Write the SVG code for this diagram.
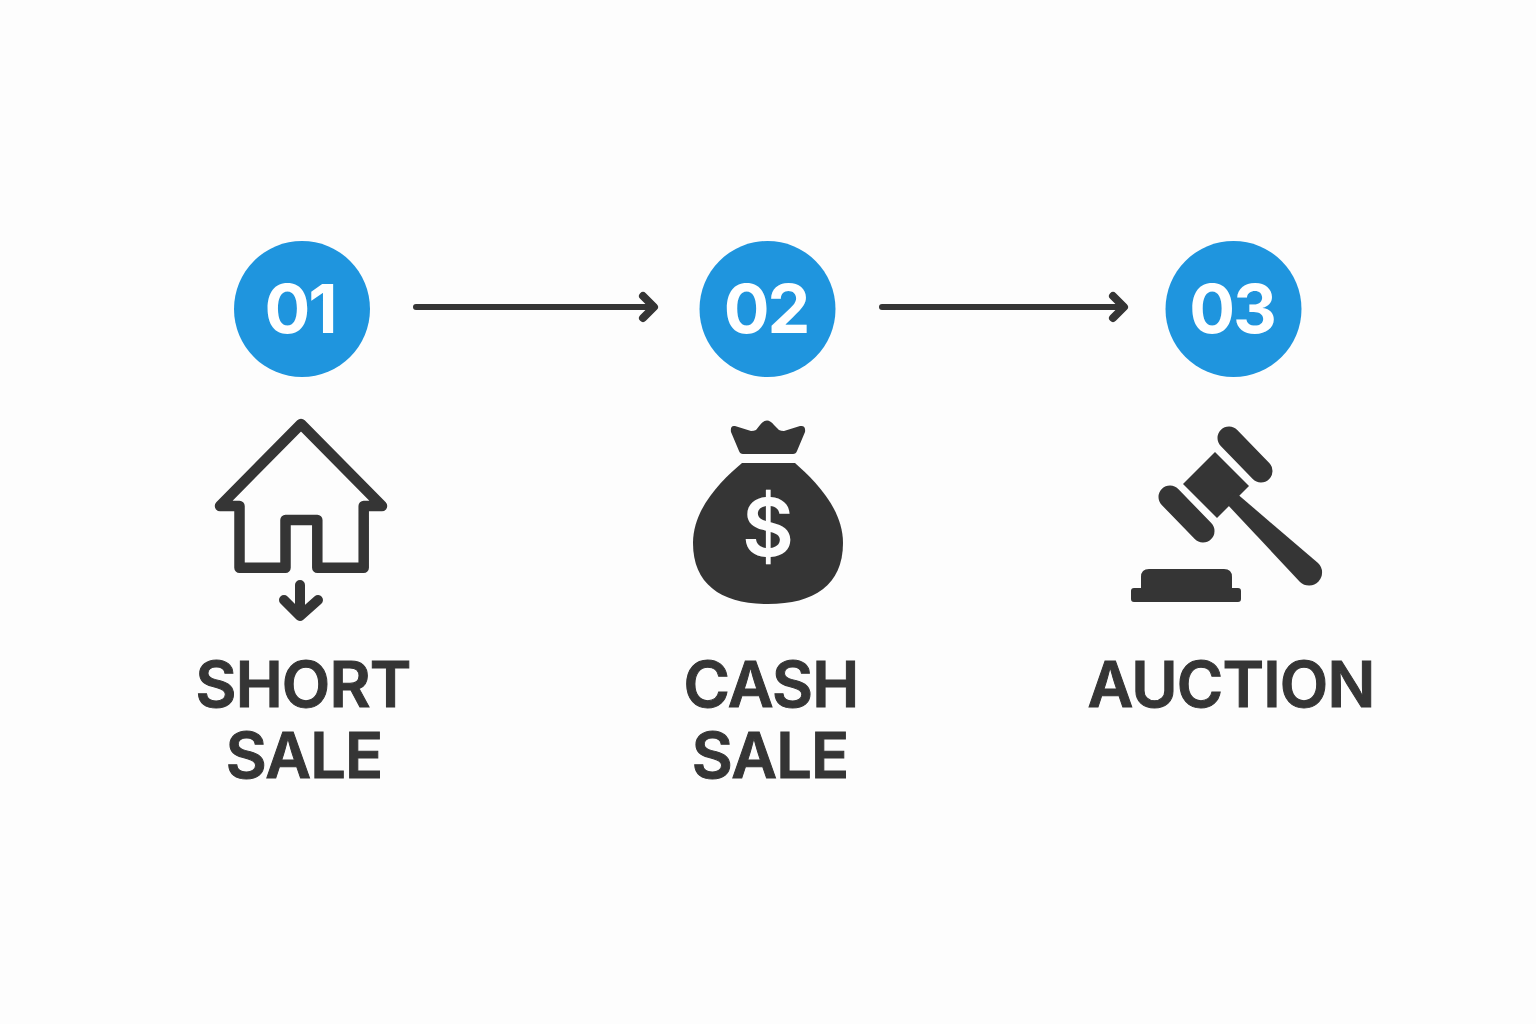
<svg xmlns="http://www.w3.org/2000/svg" width="1536" height="1024" viewBox="0 0 1536 1024">
<style>
.badge{fill:#1f95de}
.num{font-family:Inter,"Liberation Sans",sans-serif;font-weight:700;font-size:68px;letter-spacing:-2px;fill:#fff;text-anchor:middle}
.lbl{font-family:Inter,"Liberation Sans",sans-serif;font-weight:600;font-size:63px;letter-spacing:-.8px;fill:#353535;stroke:#353535;stroke-width:1;text-anchor:middle}
.ic{fill:#353535}
.ln{fill:none;stroke:#353535;stroke-linecap:round;stroke-linejoin:round}
.conn{fill:none;stroke:#353535;stroke-width:6;stroke-linecap:round}
</style>
<defs>
<marker id="chev" markerUnits="userSpaceOnUse" markerWidth="30" markerHeight="40" refX="20" refY="20" orient="auto" overflow="visible">
<path d="M9 9L20 20L9 31" fill="none" stroke="#353535" stroke-width="8" stroke-linecap="round" stroke-linejoin="round"/>
</marker>
</defs>
<rect width="1536" height="1024" fill="#fdfdfd"/>
<g id="connectors">
<path class="conn" d="M416 307H654" marker-end="url(#chev)"/>
<path class="conn" d="M882 307H1124" marker-end="url(#chev)"/>
</g>
<g id="node-short-sale">
<circle class="badge" cx="302" cy="309" r="68"/>
<text class="num" x="300" y="333">01</text>
<path class="ln" stroke-width="10.500" d="M301 424L220 506H239.500V567.700H285.500V520H317.300V567.700H363.700V506H382Z"/>
<path class="ln" stroke-width="10" d="M300 585V616M284 600L300 616L318 600"/>
<text class="lbl" x="303" y="707">SHORT</text>
<text class="lbl" x="304" y="778">SALE</text>
</g>
<g id="node-cash-sale">
<circle class="badge" cx="767.500" cy="309" r="68"/>
<text class="num" x="766" y="333">02</text>
<path class="ic" d="M735 426L751 431Q754 431 756 430L760 425Q767 416 774 425L779 430Q781 431 784 431L800 426Q806 425 805 432L797 451Q796 454 793 454H743Q740 454 739 451L731 432Q730 425 735 426Z"/>
<path class="ic" d="M742 463H795C814 480 843 508 843 543C843 585 814 604 768 604C722 604 693 585 693 543C693 508 722 480 742 463Z"/>
<text x="768" y="556" font-family="Inter,'Liberation Sans',sans-serif" font-weight="600" font-size="80" fill="#fdfdfd" text-anchor="middle">$</text>
<text class="lbl" x="771" y="707">CASH</text>
<text class="lbl" x="770" y="778">SALE</text>
</g>
<g id="node-auction">
<circle class="badge" cx="1233.500" cy="309" r="68"/>
<text class="num" x="1232" y="333">03</text>
<path class="ln" stroke-width="23" d="M1229 438L1261 471M1170 497L1203 531"/>
<path class="ic" d="M1215 452L1249 486L1217 518L1183 484Z"/>
<path class="ic" d="M1235 492L1318 563A13 13 0 0 1 1300 582L1226 503Z"/>
<path class="ic" d="M1141 590V577Q1141 569 1149 569H1224Q1232 569 1232 577V588H1238Q1241 588 1241 591V599Q1241 602 1238 602H1134Q1131 602 1131 599V591Q1131 588 1134 588H1141Z"/>
<text class="lbl" x="1231" y="707">AUCTION</text>
</g>
</svg>
